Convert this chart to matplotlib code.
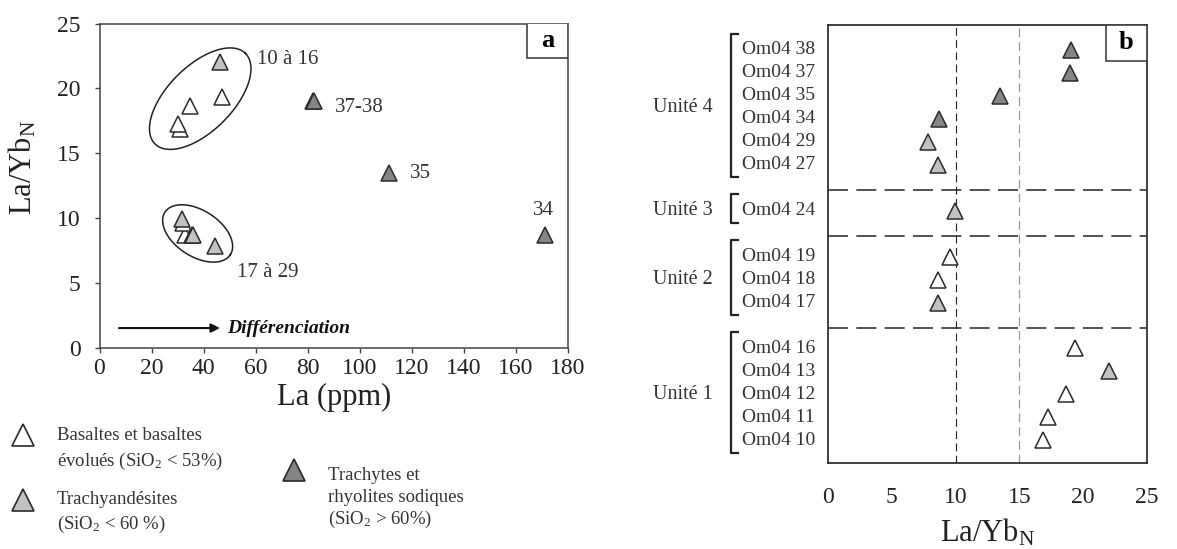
import numpy as np
import matplotlib.pyplot as plt
from matplotlib.patches import Rectangle

plt.rcParams['font.family'] = 'Liberation Serif'
plt.rcParams['mathtext.fontset'] = 'custom'
plt.rcParams['mathtext.rm'] = 'Liberation Serif'
plt.rcParams['mathtext.it'] = 'Liberation Serif:italic'
plt.rcParams['mathtext.bf'] = 'Liberation Serif:bold'

W, H = 1177, 549

# ---- data ----
samples = ['Om04 10', 'Om04 11', 'Om04 12', 'Om04 13', 'Om04 16',
           'Om04 17', 'Om04 18', 'Om04 19', 'Om04 24',
           'Om04 27', 'Om04 29', 'Om04 34', 'Om04 35', 'Om04 37', 'Om04 38']
units = [1, 1, 1, 1, 1, 2, 2, 2, 3, 4, 4, 4, 4, 4, 4]
rock = ['bas', 'bas', 'bas', 'tand', 'bas',
        'tand', 'bas', 'bas', 'tand',
        'tand', 'tand', 'trach', 'trach', 'trach', 'trach']
la_ppm = [31.0, 30.2, 34.8, 46.3, 47.1,
          35.5, 33.0, 32.2, 31.8,
          36.0, 44.4, 171.3, 111.3, 82.1, 82.3]
la_yb = [16.85, 17.25, 18.65, 22.0, 19.35,
         8.65, 8.65, 9.6, 9.95,
         8.65, 7.8, 8.7, 13.5, 19.0, 19.05]

group_labels = ['10 à 16', '37-38', '35', '34', '17 à 29']
group_label_xy = [(60.6, 22.2), (90.6, 18.5), (119.4, 13.4), (166.7, 10.6), (52.8, 5.8)]

legend_lines = {
    'bas': ['Basaltes et basaltes', r'évolués (SiO$_\mathrm{2}$ < 53%)'],
    'tand': ['Trachyandésites', r'(SiO$_\mathrm{2}$ < 60 %)'],
    'trach': ['Trachytes et', 'rhyolites sodiques', r'(SiO$_\mathrm{2}$ > 60%)'],
}

face = {'bas': 'white', 'tand': '#c2c2c2', 'trach': '#858585'}
order = ['bas', 'tand', 'trach']
edge = '#2a2a2a'

fig = plt.figure(figsize=(W / 100, H / 100), dpi=100)


def px_rect(x0, y0, x1, y1):
    return [x0 / W, 1 - y1 / H, (x1 - x0) / W, (y1 - y0) / H]


# ================= panel a =================
ax = fig.add_axes(px_rect(99.5, 23.5, 568, 347.5))
ax.set_xlim(0, 180)
ax.set_ylim(0, 25)
for r in order:
    xs = [x for x, rr in zip(la_ppm, rock) if rr == r]
    ys = [y for y, rr in zip(la_yb, rock) if rr == r]
    ax.plot(xs, ys, ls='none', marker='^', ms=11.5, mfc=face[r], mec=edge, mew=1.1, zorder=3)

for lab, (x, y) in zip(group_labels, group_label_xy):
    ax.text(x, y, lab, fontsize=15, color='#333', ha='left', va='center')


def ring(ax, cx, cy, w, h, ang):
    t = np.linspace(0, 2 * np.pi, 200)
    c = ax.transData.transform((cx, cy))
    a = np.deg2rad(ang)
    ex = w / 2 * np.cos(t)
    ey = h / 2 * np.sin(t)
    px = c[0] + ex * np.cos(a) - ey * np.sin(a)
    py = c[1] + ex * np.sin(a) + ey * np.cos(a)
    d = ax.transData.inverted().transform(np.column_stack([px, py]))
    ax.plot(d[:, 0], d[:, 1], color='#222', lw=1.1, zorder=2)


ring(ax, 38.7, 19.2, 128, 65, 45)
ring(ax, 37.7, 8.8, 78, 46, -33)

ax.annotate('', xy=(46.3, 1.5), xytext=(7.5, 1.5),
            arrowprops=dict(arrowstyle='-|>', color='#111', lw=1.5,
                            mutation_scale=13, shrinkA=0, shrinkB=0))
ax.text(49, 1.5, 'Différenciation', fontsize=14, fontweight='bold',
        fontstyle='italic', va='center', ha='left', color='#111')

ax.set_xticks(range(0, 181, 20))
ax.set_yticks(range(0, 26, 5))
ax.tick_params(axis='both', direction='out', length=3.5, width=1, color='#444',
               labelsize=17, labelcolor='#222')
ax.tick_params(axis='x', pad=4)
ax.tick_params(axis='y', pad=10)
for s in ax.spines.values():
    s.set_color('#444')
    s.set_linewidth(1.1)
ax.set_xlabel('La (ppm)', fontsize=22, color='#222', va='center')
ax.xaxis.set_label_coords(0.5, -0.153)
ax.set_ylabel(r'La/Yb$_\mathrm{N}$', fontsize=22, color='#222', va='center')
ax.yaxis.set_label_coords(-0.163, 0.557)

ax.add_patch(Rectangle((0.913, 0.894), 0.087, 0.106, transform=ax.transAxes,
                       facecolor='white', edgecolor='#333', lw=1.1, zorder=4))
ax.text(0.9565, 0.947, 'a', transform=ax.transAxes, fontsize=19, fontweight='bold',
        ha='center', va='center', zorder=5)

# ---- legend below panel a ----
leg_marker_px = {'bas': (22.5, 434.5), 'tand': (22.5, 500), 'trach': (293.5, 470)}
leg_text_px = {'bas': (57, [436, 461]), 'tand': (57, [500, 524]),
               'trach': (328, [476, 497, 519])}
for r in order:
    mx, my = leg_marker_px[r]
    fig.lines.append(plt.Line2D([mx / W], [1 - my / H], transform=fig.transFigure,
                                ls='none', marker='^', ms=15.5, mfc=face[r],
                                mec=edge, mew=1.2))
    tx, tys = leg_text_px[r]
    for line, ty in zip(legend_lines[r], tys):
        fig.text(tx / W, 1 - ty / H, line, fontsize=13.5, color='#333',
                 ha='left', va='center')

# ================= panel b =================
ax2 = fig.add_axes(px_rect(828, 25, 1147, 463))
ax2.set_xlim(0, 25)

ypos = {}
spans = {}
seps = []
slot = 0
for u in [1, 2, 3, 4]:
    names = [s for s, uu in zip(samples, units) if uu == u]
    first = slot
    for s in names:
        ypos[s] = slot
        slot += 1
    spans[u] = (first, slot - 1)
    if u < 4:
        seps.append(slot)
        slot += 1
ax2.set_ylim(-0.98, 18.07)

for r in order:
    xs = [x for x, rr in zip(la_yb, rock) if rr == r]
    ys = [ypos[s] for s, rr in zip(samples, rock) if rr == r]
    ax2.plot(xs, ys, ls='none', marker='^', ms=11.5, mfc=face[r], mec=edge, mew=1.1, zorder=3)

for y in seps:
    ax2.axhline(y - 0.1, color='#333', lw=1.2, ls=(0, (12, 5)), zorder=1)
ax2.axvline(10, color='#222', lw=0.8, ls=(0, (7, 4)), zorder=1)
ax2.axvline(15, color='#999', lw=0.9, ls=(0, (7, 4)), zorder=1)

tr = ax2.get_yaxis_transform()
for s in samples:
    ax2.text(-0.27, ypos[s], s, transform=tr, fontsize=14, color='#333',
             ha='left', va='center')
for u in [1, 2, 3, 4]:
    lo, hi = spans[u]
    top = hi + 0.7
    bot = lo - 0.55
    ax2.plot([-0.283, -0.305, -0.305, -0.283], [top, top, bot, bot], transform=tr,
             clip_on=False, color='#222', lw=1.6)
    ax2.text(-0.549, (lo + hi) / 2, 'Unité %d' % u, transform=tr, fontsize=14.5,
             color='#333', ha='left', va='center')

ax2.set_xticks(range(0, 26, 5))
ax2.set_yticks([])
ax2.tick_params(axis='x', length=0, labelsize=17, pad=17, labelcolor='#222')
for s in ax2.spines.values():
    s.set_color('#333')
    s.set_linewidth(1.3)
ax2.set_xlabel(r'La/Yb$_\mathrm{N}$', fontsize=22, color='#222', va='center')
ax2.xaxis.set_label_coords(0.5, -0.16)

ax2.add_patch(Rectangle((0.871, 0.9185), 0.129, 0.0815, transform=ax2.transAxes,
                        facecolor='white', edgecolor='#333', lw=1.1, zorder=4))
ax2.text(0.9355, 0.959, 'b', transform=ax2.transAxes, fontsize=19, fontweight='bold',
         ha='center', va='center', zorder=5)

fig.savefig('out.png', dpi=100)
